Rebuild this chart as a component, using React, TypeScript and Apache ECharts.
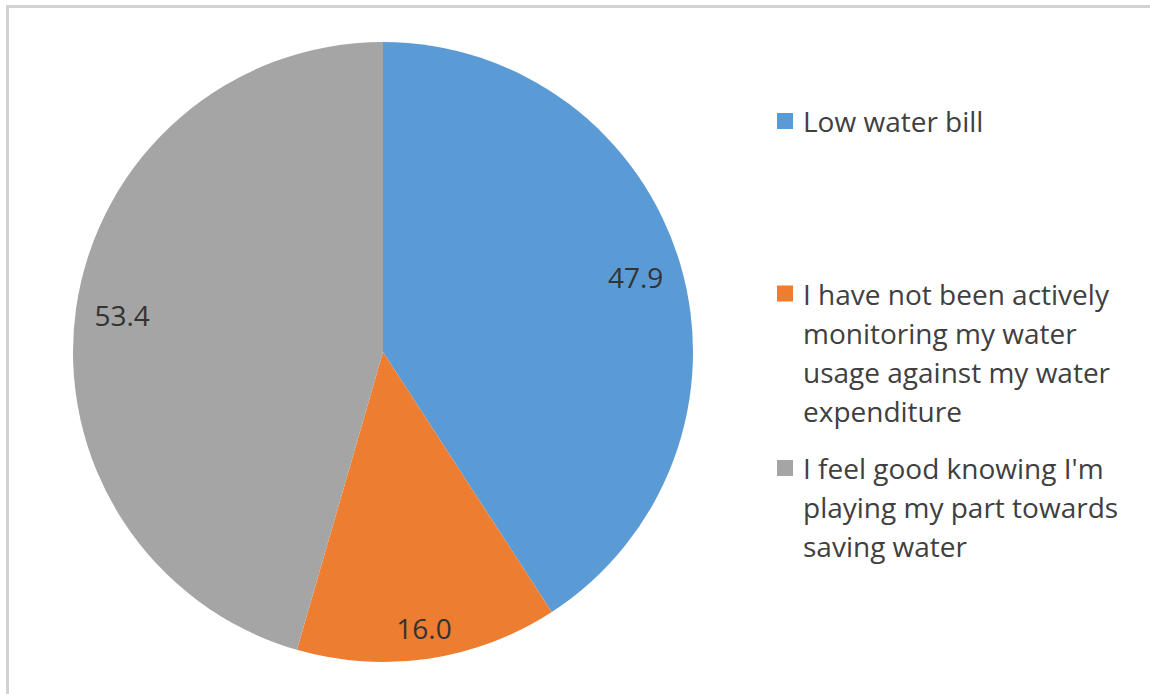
import React, { useEffect, useRef } from "react";
import * as echarts from "echarts";

const categories = [
  "Low water bill",
  "I have not been actively monitoring my water usage against my water expenditure",
  "I feel good knowing I'm playing my part towards saving water",
];
const values = [47.9, 16.0, 53.4];
const legendLines = [
  ["Low water bill"],
  ["I have not been actively", "monitoring my water", "usage against my water", "expenditure"],
  ["I feel good knowing I'm", "playing my part towards", "saving water"],
];
const colors = ["#5B9BD5", "#ED7D31", "#A5A5A5"];

const FONT = "Open Sans";
const LINE_H = 39;
const legendTops = [101.5, 274, 448.5];

function iconPath(lines: number): string {
  const h = lines * LINE_H;
  const c = LINE_H / 2;
  return `path://M0,0L0.001,0M21,${h}L21.001,${h}M0,${c - 8}L16,${c - 8}L16,${c + 8}L0,${c + 8}Z`;
}

export default function App() {
  const ref = useRef<HTMLDivElement>(null);
  useEffect(() => {
    if (!ref.current) return;
    const chart = echarts.init(ref.current, null, { renderer: "svg" });
    const mainData = categories.map((name, i) => ({ name, value: values[i], itemStyle: { color: colors[i] } }));
    const overlay = (show: (i: number) => boolean) =>
      categories.map((name, i) => ({
        name,
        value: values[i],
        itemStyle: { color: "rgba(0,0,0,0)" },
        label: { show: show(i) },
      }));
    const labelStyle = {
      position: "inside",
      formatter: (p: any) => Number(p.value).toFixed(1),
      fontFamily: FONT,
      fontSize: 28,
      color: "#333333",
    };
    chart.setOption({
      animation: false,
      backgroundColor: "#ffffff",
      color: colors,
      graphic: [
        { type: "rect", shape: { x: 6, y: 5, width: 1144, height: 3 }, style: { fill: "#D2D2D2" }, silent: true },
        { type: "rect", shape: { x: 6, y: 5, width: 3, height: 689 }, style: { fill: "#D2D2D2" }, silent: true },
      ],
      legend: categories.map((name, i) => ({
        data: [name],
        orient: "vertical",
        left: 777,
        top: legendTops[i],
        padding: 0,
        itemWidth: 21,
        itemHeight: legendLines[i].length * LINE_H,
        icon: iconPath(legendLines[i].length),
        itemStyle: { borderWidth: 0 },
        selectedMode: false,
        formatter: () => legendLines[i].join("\n"),
        textStyle: { fontFamily: FONT, fontSize: 28, color: "#404040", lineHeight: LINE_H },
      })),
      series: [
        {
          type: "pie",
          center: [383, 352],
          radius: 310,
          startAngle: 90,
          clockwise: true,
          silent: true,
          label: { show: false },
          labelLine: { show: false },
          itemStyle: { borderWidth: 0 },
          data: mainData,
        },
        {
          type: "pie",
          center: [383, 352],
          radius: [211, 310],
          startAngle: 90,
          clockwise: true,
          silent: true,
          labelLine: { show: false },
          label: labelStyle,
          itemStyle: { borderWidth: 0 },
          data: overlay((i) => i !== 1),
        },
        {
          type: "pie",
          center: [383, 352],
          radius: [242, 310],
          startAngle: 90,
          clockwise: true,
          silent: true,
          labelLine: { show: false },
          label: labelStyle,
          itemStyle: { borderWidth: 0 },
          data: overlay((i) => i === 1),
        },
      ],
    });
    return () => chart.dispose();
  }, []);
  return (
    <div
      ref={ref}
      style={{ position: "absolute", left: 0, top: 0, width: 1150, height: 694 }}
    />
  );
}
